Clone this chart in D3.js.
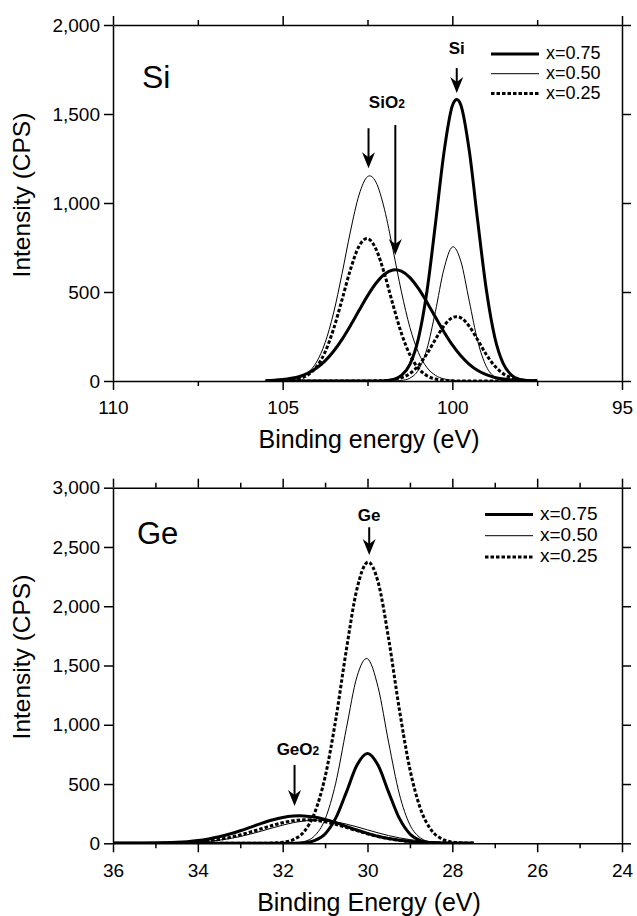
<!DOCTYPE html>
<html>
<head>
<meta charset="utf-8">
<script src="https://cdn.jsdelivr.net/npm/d3@7"></script>
<style>
  body { margin: 0; background: #fff; }
  svg text { font-family: "Liberation Sans", Arial, Helvetica, sans-serif; fill: #000; }
</style>
</head>
<body>
<svg id="chart" width="637" height="916"></svg>
<script>
// ---- Si 2p fitted components (binding energy in eV, intensity in CPS) ----
const siEnergy = [97.5,97.75,98,98.25,98.5,98.75,99,99.25,99.5,99.75,100,100.25,100.5,100.75,101,101.25,101.5,101.75,102,102.25,102.5,102.75,103,103.25,103.5,103.75,104,104.25,104.5,104.75,105,105.25,105.5];
const siOxide075 = [1,1,3,6,11,20,36,59,94,142,203,277,359,443,520,581,617,624,600,549,478,396,312,234,167,113,73,45,26,15,8,4,2];
const siMetal075 = [0,2,9,32,97,246,515,895,1293,1551,1546,1279,879,501,238,94,31,8,2,0,0,0,0,0,0,0,0,0,0,0,0,0,0];
const siOxide050 = [0,0,0,0,0,0,0,0,0,1,4,12,32,76,160,301,501,738,965,1117,1148,1045,843,603,382,215,107,47,18,6,2,1,0];
const siMetal050 = [0,0,0,1,5,22,82,222,448,673,753,627,389,179,62,16,3,0,0,0,0,0,0,0,0,0,0,0,0,0,0,0,0];
const siOxide025 = [0,0,0,0,0,0,0,0,0,0,1,4,11,30,71,147,268,429,602,741,800,757,628,457,292,163,80,35,13,4,1,0,0];
const siMetal025 = [1,2,6,17,41,84,149,230,307,355,356,309,233,152,86,42,18,7,2,1,0,0,0,0,0,0,0,0,0,0,0,0,0];

// ---- Ge 3d fitted components ----
const geEnergy = [27.5,27.75,28,28.25,28.5,28.75,29,29.25,29.5,29.75,30,30.25,30.5,30.75,31,31.25,31.5,31.75,32,32.25,32.5,32.75,33,33.25,33.5,33.75,34,34.25,34.5,34.75,35,35.25,35.5,35.75,36];
const geOxide075 = [0,1,1,3,5,9,16,26,40,59,84,112,143,174,201,221,231,230,218,196,168,137,106,78,55,37,23,14,8,4,2,1,1,0,0];
const geMetal075 = [0,0,0,1,5,22,79,212,430,658,758,658,430,212,79,22,5,1,0,0,0,0,0,0,0,0,0,0,0,0,0,0,0,0,0];
const geOxide050 = [1,2,4,7,12,20,31,46,65,88,113,139,162,181,192,195,188,174,153,129,103,79,57,40,26,17,10,6,3,2,1,0,0,0,0];
const geMetal050 = [0,0,0,2,10,45,156,417,848,1316,1557,1404,966,507,203,62,14,3,0,0,0,0,0,0,0,0,0,0,0,0,0,0,0,0,0];
const geOxide025 = [0,1,1,2,5,9,15,25,39,57,80,107,134,160,182,195,198,190,174,150,123,96,71,49,33,20,12,7,4,2,1,0,0,0,0];
const geMetal025 = [0,2,10,37,113,290,625,1132,1722,2204,2371,2144,1629,1041,559,253,96,31,8,2,0,0,0,0,0,0,0,0,0,0,0,0,0,0,0];

// ---- axes ----
const compositions = ["x=0.75", "x=0.50", "x=0.25"];
const siXMajor = [110, 105, 100, 95];
const siXMinor = [107.5, 102.5, 97.5];
const siYTicks = [0, 500, 1000, 1500, 2000];
const geXMajor = [36, 34, 32, 30, 28, 26, 24];
const geXMinor = [35, 33, 31, 29, 27, 25];
const geYTicks = [0, 500, 1000, 1500, 2000, 2500, 3000];

// line style per composition
const styleFor = {
  "x=0.75": { width: 3, dash: null },
  "x=0.50": { width: 1, dash: null },
  "x=0.25": { width: 3, dash: "3.5,2" }
};

const svg = d3.select("#chart");
const FONT = '"Liberation Sans", Arial, Helvetica, sans-serif';

function arrow(g, x, yTop, yTip) {
  g.append("line")
    .attr("x1", x).attr("x2", x)
    .attr("y1", yTop).attr("y2", yTip - 9)
    .attr("stroke", "#000").attr("stroke-width", 2);
  g.append("path")
    .attr("d", `M${x},${yTip} L${x - 6.5},${yTip - 16} L${x},${yTip - 11} L${x + 6.5},${yTip - 16} Z`)
    .attr("fill", "#000");
}

function drawPanel(p) {
  const left = 113, right = 622;
  const x = d3.scaleLinear().domain(p.xDomain).range([left, right]);
  const y = d3.scaleLinear().domain(p.yDomain).range([p.bottom, p.top]);
  const g = svg.append("g");

  const clipId = "clip-" + p.id;
  svg.append("defs").append("clipPath").attr("id", clipId)
    .append("rect").attr("x", left).attr("y", p.top - 2)
    .attr("width", right - left).attr("height", p.bottom - p.top + 2);

  // fitted component curves
  const line = d3.line()
    .x((d, i) => x(p.energy[i]))
    .y(d => y(d))
    .curve(d3.curveCatmullRom.alpha(0));

  const curves = g.append("g").attr("clip-path", `url(#${clipId})`);
  p.series.forEach(s => {
    const st = styleFor[s.composition];
    curves.append("path")
      .datum(s.values)
      .attr("d", line)
      .attr("fill", "none")
      .attr("stroke", "#000")
      .attr("stroke-width", st.width)
      .attr("stroke-dasharray", st.dash)
      .attr("stroke-linejoin", "round");
  });

  // axes
  const styleAxis = sel => {
    sel.attr("font-family", FONT).attr("font-size", 19);
    sel.select(".domain").attr("stroke-width", 1.5);
    sel.selectAll(".tick line").attr("stroke-width", 1.5);
    sel.selectAll(".tick text").attr("fill", "#000");
  };
  const noDomain = sel => sel.select(".domain").remove();

  g.append("g").attr("transform", `translate(0,${p.bottom})`)
    .call(d3.axisBottom(x).tickValues(p.xMajor).tickSize(9).tickSizeOuter(0)
      .tickPadding(11).tickFormat(d3.format("d")))
    .call(styleAxis);
  g.append("g").attr("transform", `translate(0,${p.bottom})`)
    .call(d3.axisBottom(x).tickValues(p.xMinor).tickSize(5).tickFormat(""))
    .call(styleAxis).call(noDomain);
  g.append("g").attr("transform", `translate(0,${p.top})`)
    .call(d3.axisTop(x).tickValues(p.xMajor).tickSize(9).tickSizeOuter(0).tickFormat(""))
    .call(styleAxis);
  g.append("g").attr("transform", `translate(0,${p.top})`)
    .call(d3.axisTop(x).tickValues(p.xMinor).tickSize(5).tickFormat(""))
    .call(styleAxis).call(noDomain);
  g.append("g").attr("transform", `translate(${left},0)`)
    .call(d3.axisLeft(y).tickValues(p.yTicks).tickSize(9).tickSizeOuter(0)
      .tickPadding(4).tickFormat(d3.format(",")))
    .call(styleAxis);
  g.append("g").attr("transform", `translate(${right},0)`)
    .call(d3.axisRight(y).tickValues(p.yTicks).tickSize(9).tickSizeOuter(0).tickFormat(""))
    .call(styleAxis);

  // axis titles
  g.append("text")
    .attr("x", (left + right) / 2 + 1.5).attr("y", p.bottom + 67.3)
    .attr("text-anchor", "middle").attr("font-size", 25)
    .text(p.xTitle);
  g.append("text")
    .attr("transform", `translate(30,${p.yTitleCenter}) rotate(-90)`)
    .attr("text-anchor", "middle").attr("font-size", 24.5)
    .text("Intensity (CPS)");

  // element label
  g.append("text")
    .attr("x", p.label.x).attr("y", p.label.y)
    .attr("font-size", p.label.size)
    .text(p.label.text);

  // peak annotations
  p.notes.forEach(n => {
    const t = g.append("text")
      .attr("x", x(n.energy)).attr("y", y(n.textAt))
      .attr("text-anchor", "middle").attr("font-size", 17).attr("font-weight", "bold");
    t.append("tspan").text(n.text);
    if (n.sub) t.append("tspan").attr("font-size", 12).text(n.sub);
  });
  p.arrows.forEach(a => arrow(g, x(a.energy), y(a.from), y(a.to)));

  // legend
  compositions.forEach((c, i) => {
    const st = styleFor[c];
    const ly = p.legend.y + i * p.legend.step;
    g.append("line")
      .attr("x1", p.legend.x).attr("x2", p.legend.x + 48)
      .attr("y1", ly).attr("y2", ly)
      .attr("stroke", "#000").attr("stroke-width", st.width)
      .attr("stroke-dasharray", st.dash);
    g.append("text")
      .attr("x", p.legend.x + 55).attr("y", ly + 5.3)
      .attr("font-size", p.legend.size)
      .text(c);
  });
}

drawPanel({
  id: "si",
  xDomain: [110, 95], yDomain: [0, 2000],
  top: 25, bottom: 381,
  energy: siEnergy,
  series: [
    { composition: "x=0.50", values: siOxide050 },
    { composition: "x=0.50", values: siMetal050 },
    { composition: "x=0.25", values: siOxide025 },
    { composition: "x=0.25", values: siMetal025 },
    { composition: "x=0.75", values: siOxide075 },
    { composition: "x=0.75", values: siMetal075 }
  ],
  xMajor: siXMajor, xMinor: siXMinor, yTicks: siYTicks,
  xTitle: "Binding energy (eV)", yTitleCenter: 195,
  label: { text: "Si", x: 142, y: 88, size: 32 },
  notes: [
    { text: "Si", energy: 99.87, textAt: 1837 },
    { text: "SiO", sub: "2", energy: 101.93, textAt: 1532 }
  ],
  arrows: [
    { energy: 99.87, from: 1758, to: 1618 },
    { energy: 102.47, from: 1420, to: 1195 },
    { energy: 101.68, from: 1438, to: 708 }
  ],
  legend: { x: 491, y: 54, step: 19.7, size: 18 }
});

drawPanel({
  id: "ge",
  xDomain: [36, 24], yDomain: [0, 3000],
  top: 487.7, bottom: 843.3,
  energy: geEnergy,
  series: [
    { composition: "x=0.50", values: geOxide050 },
    { composition: "x=0.50", values: geMetal050 },
    { composition: "x=0.25", values: geOxide025 },
    { composition: "x=0.25", values: geMetal025 },
    { composition: "x=0.75", values: geOxide075 },
    { composition: "x=0.75", values: geMetal075 }
  ],
  xMajor: geXMajor, xMinor: geXMinor, yTicks: geYTicks,
  xTitle: "Binding Energy (eV)", yTitleCenter: 657,
  label: { text: "Ge", x: 137, y: 544, size: 31 },
  notes: [
    { text: "Ge", energy: 29.96, textAt: 2719 },
    { text: "GeO", sub: "2", energy: 31.64, textAt: 745 }
  ],
  arrows: [
    { energy: 29.96, from: 2666, to: 2432 },
    { energy: 31.72, from: 661, to: 315 }
  ],
  legend: { x: 485, y: 514.5, step: 21.2, size: 19 }
});
</script>
</body>
</html>
